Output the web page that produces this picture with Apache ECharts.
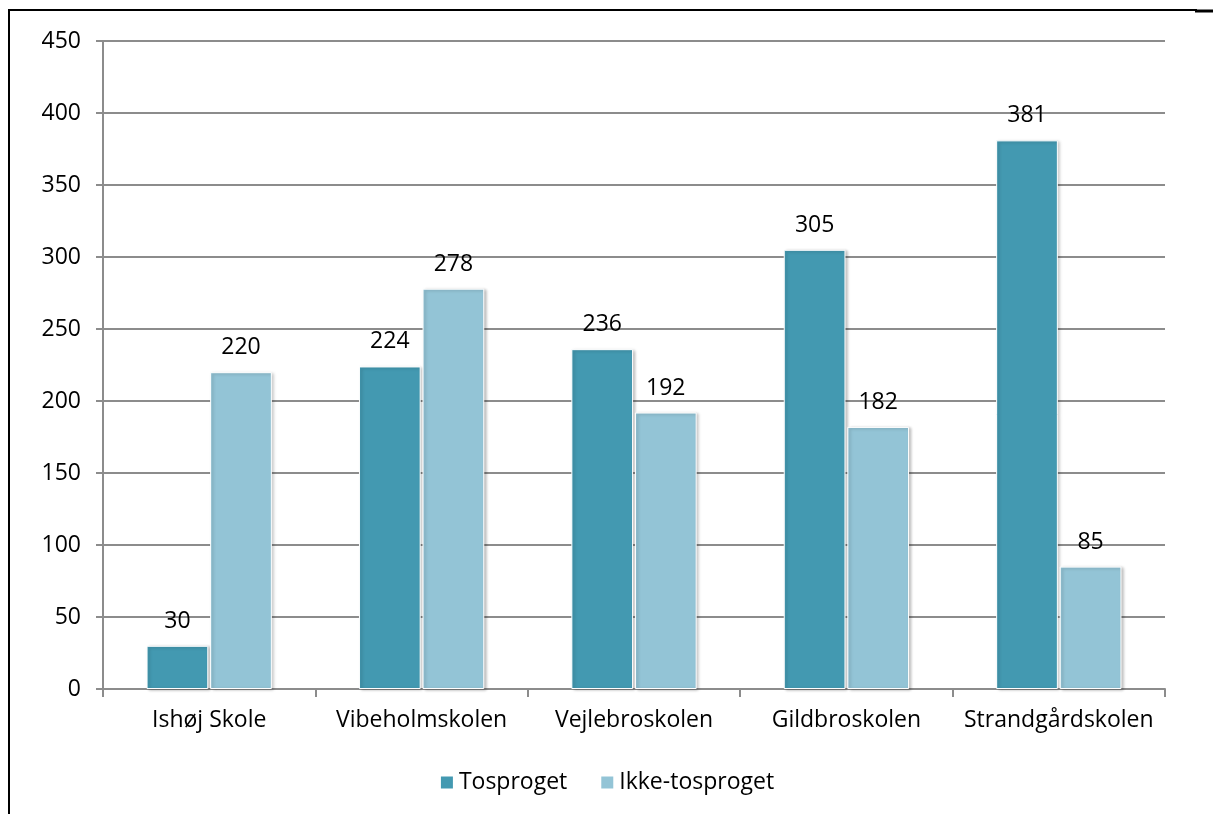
<!DOCTYPE html>
<html lang="da">
<head>
  <meta charset="UTF-8">
  <title>Tosprogede elever</title>
  <script src="https://cdn.jsdelivr.net/npm/echarts@6/dist/echarts.min.js"></script>
  <style>
    body { margin: 0; background: #fff; }
    #main { width: 1213px; height: 814px; }
  </style>
</head>
<body>
  <div id="main"></div>
  <script>
    // data
    var schools = ['Ishøj Skole', 'Vibeholmskolen', 'Vejlebroskolen', 'Gildbroskolen', 'Strandgårdskolen']
    var tosproget = [30, 224, 236, 305, 381]
    var ikkeTosproget = [220, 278, 192, 182, 85]
    var seriesNames = ['Tosproget', 'Ikke-tosproget']

    var font = 'Open Sans, Liberation Sans, sans-serif'
    var fs = 23
    var grey = '#8c8c8c'

    var chart = echarts.init(document.getElementById('main'))

    function barStyle(color) {
      return {
        color: color,
        borderColor: '#fff',
        borderWidth: 1,
        shadowBlur: 3,
        shadowOffsetX: 2,
        shadowOffsetY: 1,
        shadowColor: 'rgba(0,0,0,0.25)'
      }
    }
    var label = { show: true, position: 'top', distance: 13, color: '#000', fontSize: fs, fontFamily: font }

    var option = {
      animation: false,
      grid: { left: 103, right: 48, top: 41, bottom: 125 },
      legend: {
        bottom: 15,
        left: 'center',
        itemWidth: 14,
        itemHeight: 14,
        itemGap: 32,
        icon: 'rect',
        textStyle: { fontSize: fs, fontFamily: font, color: '#000' },
        data: seriesNames
      },
      xAxis: {
        type: 'category',
        data: schools,
        axisLine: { lineStyle: { color: grey, width: 2 } },
        axisTick: { show: true, length: 8, lineStyle: { color: grey, width: 2 } },
        axisLabel: { color: '#000', fontSize: fs, fontFamily: font, margin: 20, interval: 0 }
      },
      yAxis: {
        type: 'value',
        min: 0,
        max: 450,
        interval: 50,
        axisLine: { show: true, lineStyle: { color: grey, width: 2 } },
        axisTick: { show: true, length: 7, lineStyle: { color: grey, width: 2 } },
        axisLabel: { color: '#000', fontSize: fs, fontFamily: font, margin: 22 },
        splitLine: { lineStyle: { color: grey, width: 2 } }
      },
      series: [
        {
          name: seriesNames[0],
          type: 'bar',
          data: tosproget,
          barGap: '3%',
          barCategoryGap: '41%',
          itemStyle: barStyle('#4399b1'),
          label: label
        },
        {
          name: seriesNames[1],
          type: 'bar',
          data: ikkeTosproget,
          itemStyle: barStyle('#93c4d6'),
          label: label
        }
      ],
      // page frame lines seen in the picture
      graphic: [
        { type: 'line', shape: { x1: 8, y1: 10, x2: 1197, y2: 10 }, style: { stroke: '#000', lineWidth: 2 } },
        { type: 'line', shape: { x1: 9, y1: 10, x2: 9, y2: 814 }, style: { stroke: '#000', lineWidth: 2 } },
        { type: 'line', shape: { x1: 1195, y1: 11, x2: 1213, y2: 11 }, style: { stroke: '#000', lineWidth: 3 } }
      ]
    }
    chart.setOption(option)
  </script>
</body>
</html>
